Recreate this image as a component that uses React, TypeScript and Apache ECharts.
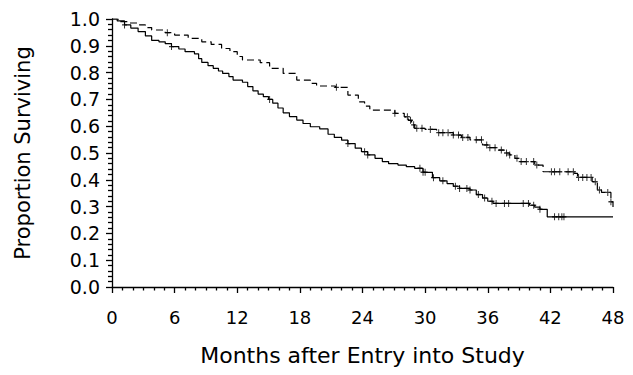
import React, { useEffect, useRef } from "react";
import * as echarts from "echarts";

// Group 1 (solid line): event times (months) and survival after each step
const solidTimes = [0, 0.5, 1.2, 1.8, 2.5, 3.2, 3.8, 4.5, 5.1, 5.7, 6.4, 7.0, 7.9, 8.3, 8.6, 9.2, 9.7, 10.2, 10.6, 11.2, 11.6, 12.5, 13.0, 13.5, 14.0, 14.5, 15.0, 15.4, 15.9, 16.4, 17.0, 17.7, 18.3, 19.0, 19.9, 20.7, 21.3, 22.0, 22.6, 23.3, 23.9, 24.5, 25.2, 25.9, 26.5, 27.4, 28.2, 29.0, 29.8, 30.7, 31.4, 32.1, 32.7, 33.3, 34.3, 34.9, 35.5, 36.0, 36.5, 40.0, 40.5, 41.0, 41.7, 48.0];
const solidSurv = [1.0, 0.993, 0.978, 0.966, 0.953, 0.937, 0.92, 0.915, 0.908, 0.897, 0.888, 0.878, 0.87, 0.852, 0.838, 0.826, 0.816, 0.806, 0.797, 0.785, 0.772, 0.764, 0.748, 0.732, 0.72, 0.71, 0.7, 0.686, 0.668, 0.65, 0.636, 0.623, 0.61, 0.598, 0.59, 0.57, 0.558, 0.548, 0.535, 0.518, 0.505, 0.493, 0.48, 0.468, 0.46, 0.455, 0.449, 0.443, 0.428, 0.408, 0.396, 0.386, 0.376, 0.368, 0.362, 0.345, 0.332, 0.32, 0.312, 0.305, 0.298, 0.29, 0.262, 0.262];
const solidCensor = [1.2, 5.7, 15.1, 22.6, 24.2, 24.5, 29.5, 29.8, 30.0, 30.8, 31.7, 32.9, 33.3, 34.0, 34.3, 35.1, 35.7, 36.4, 36.8, 37.6, 38.0, 39.4, 39.9, 40.4, 41.0, 42.4, 42.8, 43.1, 43.3];

// Group 2 (dashed line)
const dashTimes = [0, 0.6, 1.5, 2.5, 3.2, 3.8, 5.1, 6.0, 7.3, 8.6, 9.5, 10.5, 11.3, 12.0, 12.5, 14.2, 15.1, 16.4, 17.7, 19.0, 19.6, 21.4, 22.6, 23.6, 24.2, 24.7, 27.1, 28.0, 28.4, 28.7, 29.0, 30.0, 31.1, 32.7, 33.5, 34.3, 35.5, 36.2, 36.9, 37.6, 38.1, 38.6, 39.1, 40.5, 41.3, 44.3, 44.6, 46.0, 46.5, 46.9, 47.8, 48.0];
const dashSurv = [1.0, 0.99, 0.985, 0.978, 0.968, 0.959, 0.949, 0.94, 0.928, 0.915, 0.905, 0.89, 0.878, 0.86, 0.847, 0.837, 0.816, 0.797, 0.772, 0.76, 0.75, 0.745, 0.716, 0.691, 0.675, 0.66, 0.648, 0.635, 0.622, 0.605, 0.592, 0.588, 0.576, 0.567, 0.558, 0.549, 0.53, 0.52, 0.511, 0.5, 0.493, 0.48, 0.468, 0.455, 0.43, 0.424, 0.409, 0.393, 0.362, 0.353, 0.318, 0.285];
const dashCensor = [5.3, 21.5, 27.1, 28.3, 28.6, 28.9, 29.2, 29.7, 30.5, 31.3, 31.7, 32.2, 32.7, 33.2, 33.6, 34.1, 34.9, 35.4, 35.9, 36.2, 36.7, 37.3, 37.8, 38.1, 38.8, 39.2, 39.7, 40.4, 40.7, 42.1, 42.4, 42.9, 43.7, 44.2, 44.7, 45.1, 45.5, 45.9, 46.3, 46.7, 47.5, 47.8];

const xTicks = [0, 6, 12, 18, 24, 30, 36, 42, 48];
const yTicks = [0, 0.1, 0.2, 0.3, 0.4, 0.5, 0.6, 0.7, 0.8, 0.9, 1.0];

const font = "'DejaVu Sans', 'Liberation Sans', Arial, sans-serif";

function survAt(times: number[], surv: number[], t: number) {
  let v = surv[0];
  for (let i = 0; i < times.length; i++) {
    if (times[i] <= t) v = surv[i];
    else break;
  }
  return v;
}

const plusPath = "path://M2,0H3V2H5V3H3V5H2V3H0V2H2Z";

export default function App() {
  const ref = useRef<HTMLDivElement>(null);
  useEffect(() => {
    document.body.style.margin = "0";
    if (!ref.current) return;
    const chart = echarts.init(ref.current, undefined, { renderer: "svg" });
    const solidData = solidTimes.map((t, i) => [t, solidSurv[i]]);
    const dashData = dashTimes.map((t, i) => [t, dashSurv[i]]);
    const solidMarks = solidCensor.map((t) => [t, survAt(solidTimes, solidSurv, t)]);
    const dashMarks = dashCensor.map((t) => [t, survAt(dashTimes, dashSurv, t)]);
    chart.setOption({
      animation: false,
      backgroundColor: "#fff",
      grid: { left: 112, right: 20, top: 19, bottom: 88, containLabel: false },
      xAxis: {
        type: "value",
        min: xTicks[0],
        max: xTicks[xTicks.length - 1],
        interval: 6,
        offset: 5,
        name: "Months after Entry into Study",
        nameLocation: "middle",
        nameGap: 52,
        nameTextStyle: { fontFamily: font, fontSize: 22, color: "#000" },
        axisLine: { show: true, lineStyle: { color: "#000", width: 1.3 } },
        axisTick: { show: true, length: 6, lineStyle: { color: "#000", width: 1.3 } },
        minorTick: { show: true, splitNumber: 6, length: 3.5, lineStyle: { color: "#000", width: 1.3 } },
        axisLabel: { fontFamily: font, fontSize: 18, color: "#000", margin: 16 },
        splitLine: { show: false },
        minorSplitLine: { show: false },
      },
      yAxis: {
        type: "value",
        min: yTicks[0],
        max: yTicks[yTicks.length - 1],
        interval: 0.1,
        offset: 3,
        name: "Proportion Surviving",
        nameLocation: "middle",
        nameGap: 76,
        nameTextStyle: { fontFamily: font, fontSize: 21, color: "#000" },
        axisLine: { show: true, lineStyle: { color: "#000", width: 1.3 } },
        axisTick: { show: true, length: 6, lineStyle: { color: "#000", width: 1.3 } },
        minorTick: { show: true, splitNumber: 5, length: 4, lineStyle: { color: "#000", width: 1.3 } },
        axisLabel: {
          fontFamily: font,
          fontSize: 19,
          color: "#000",
          margin: 9,
          formatter: (v: number) => v.toFixed(1),
        },
        splitLine: { show: false },
        minorSplitLine: { show: false },
      },
      series: [
        {
          type: "line",
          step: "end",
          data: solidData,
          showSymbol: false,
          lineStyle: { color: "#000", width: 1.2, type: "solid" },
          z: 3,
        },
        {
          type: "line",
          step: "end",
          data: dashData,
          showSymbol: false,
          lineStyle: { color: "#000", width: 1.2, type: [7, 4] },
          z: 3,
        },
        {
          type: "scatter",
          data: solidMarks,
          symbol: plusPath,
          symbolSize: [5, 7],
          itemStyle: { color: "#000" },
          z: 4,
        },
        {
          type: "scatter",
          data: dashMarks,
          symbol: plusPath,
          symbolSize: [5, 7],
          itemStyle: { color: "#000" },
          z: 4,
        },
      ],
    });
    return () => chart.dispose();
  }, []);
  return <div ref={ref} style={{ width: 633, height: 375 }} />;
}
